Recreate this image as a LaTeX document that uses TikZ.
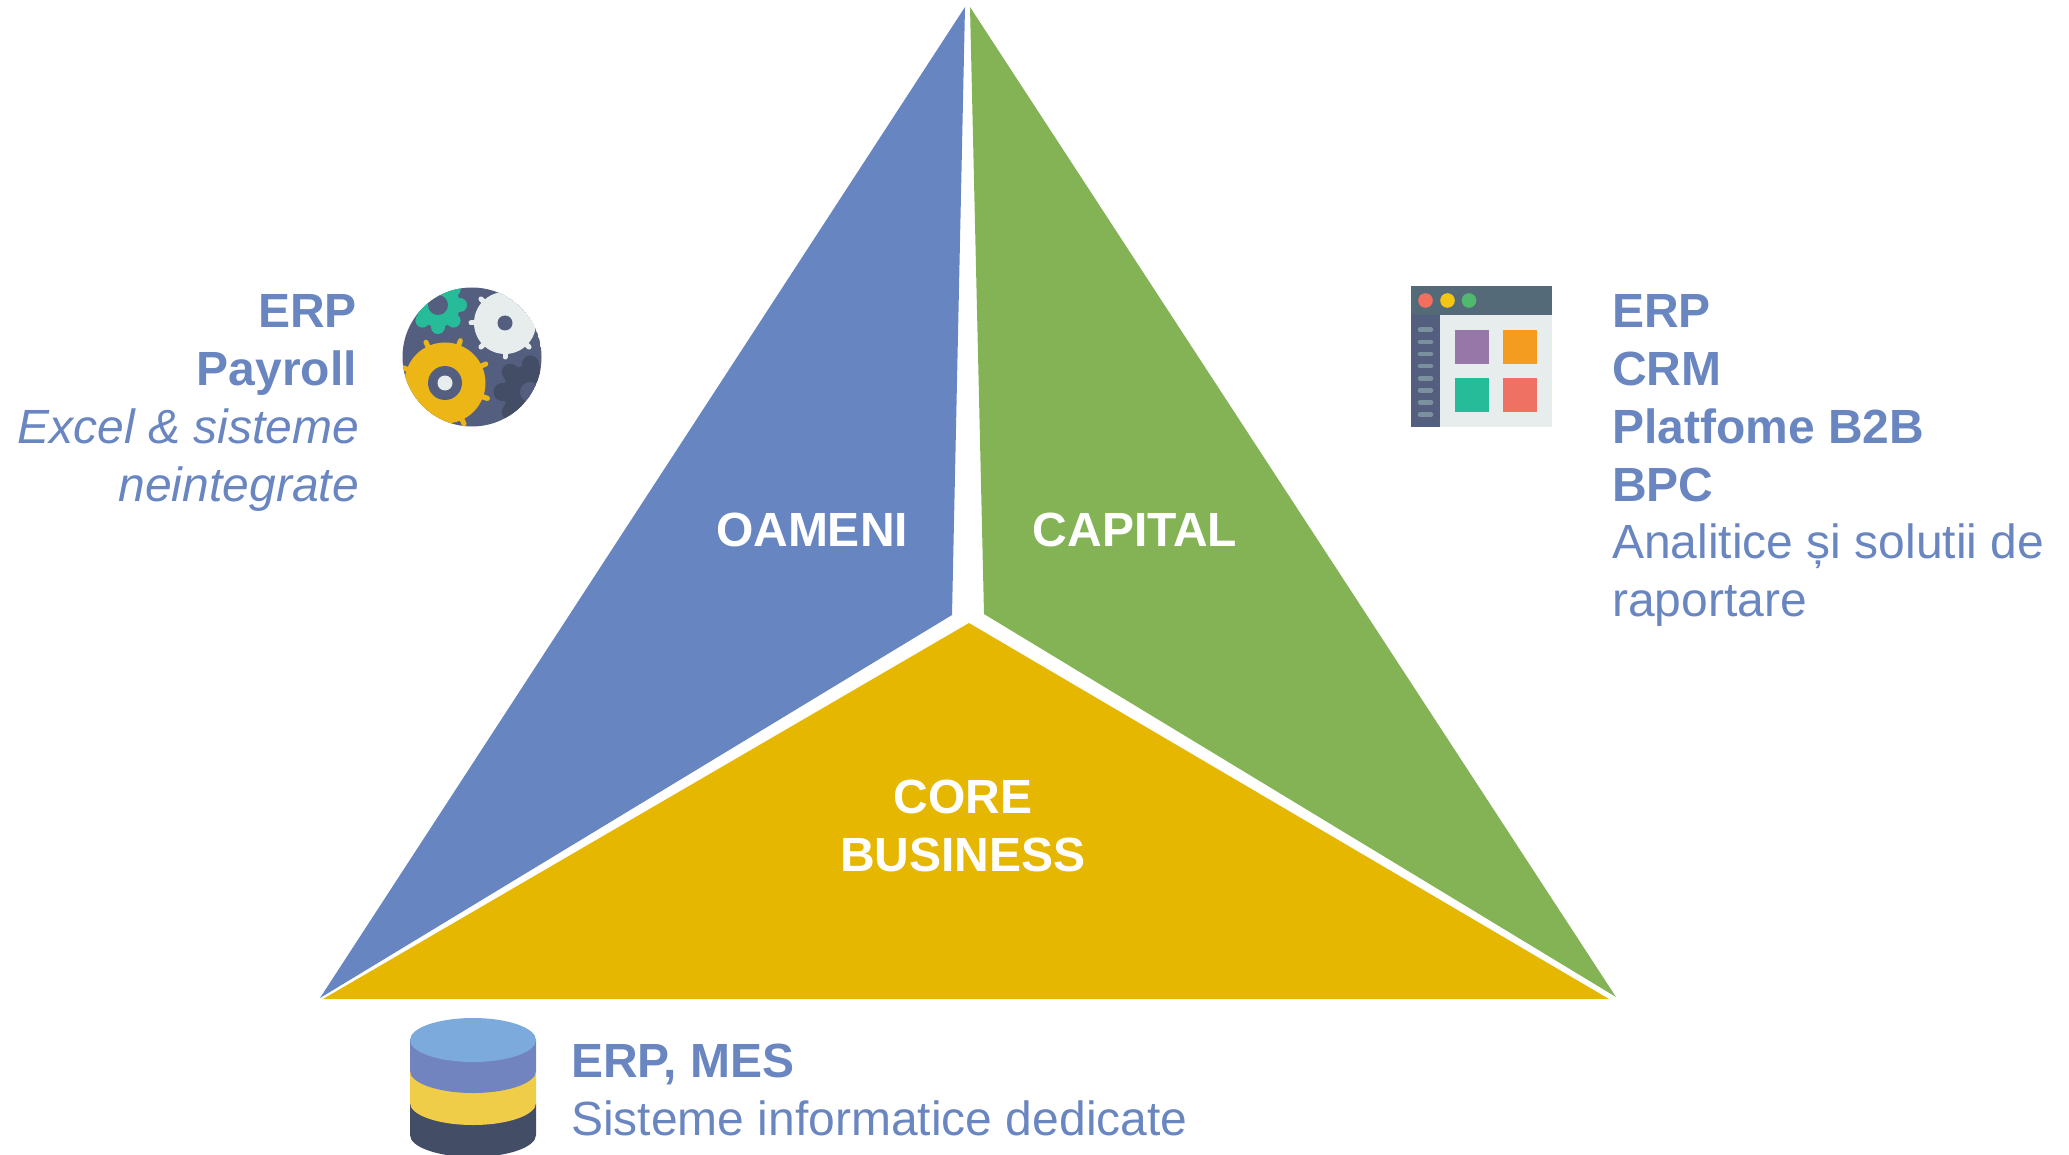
\documentclass[tikz,border=0pt]{standalone}
\usepackage{fontspec}
\setmainfont{Liberation Sans}
\definecolor{cblue}{HTML}{6785C1}
\definecolor{cgreen}{HTML}{84B356}
\definecolor{cyellow}{HTML}{E6B700}
\definecolor{ink}{HTML}{6A86C1}
\definecolor{slate}{HTML}{545F80}
\definecolor{darkslate}{HTML}{434D66}
\definecolor{gold}{HTML}{ECB616}
\definecolor{paleg}{HTML}{E7ECED}
\definecolor{teal}{HTML}{26BC9A}
\definecolor{winhead}{HTML}{546A79}
\definecolor{pill}{HTML}{7B919E}
\definecolor{dbtop}{HTML}{7DAADC}
\definecolor{dbblue}{HTML}{7284BF}
\definecolor{dbyellow}{HTML}{EFCD48}
\definecolor{dotr}{HTML}{F26F5F}
\definecolor{doty}{HTML}{F3C613}
\definecolor{dotg}{HTML}{4FBA6F}
\definecolor{sqp}{HTML}{9777A8}
\definecolor{sqo}{HTML}{F39C1F}
\definecolor{sqr}{HTML}{EE7163}
\tikzset{
  lbl/.style={font=\fontsize{48}{48}\selectfont,text=ink,inner sep=0pt},
  lblb/.style={lbl,font=\fontsize{48}{48}\selectfont\bfseries},
  lbli/.style={lbl,font=\fontsize{48}{48}\selectfont\itshape},
  inlbl/.style={font=\fontsize{48}{48}\selectfont\bfseries,text=white,inner sep=0pt,anchor=base},
  pillline/.style={draw=pill,line width=4.5pt,line cap=round}
}
\newcommand{\gearteeth}[6]{% cx cy r0 r1 width colour
  \foreach \a in {0,45,...,315}{\draw[#6,line width=#5,line cap=round] (#1,#2) ++(\a:#3) -- ++(\a:#4);}}
\begin{document}
\begin{tikzpicture}[x=1pt,y=-1pt]
\useasboundingbox (0,0) rectangle (2069,1155);
% triangle
\fill[cblue] (965,7) -- (952,615) -- (320,998) -- cycle;
\fill[cgreen] (970,7) -- (984,614) -- (1616,997) -- cycle;
\fill[cyellow] (969,623) -- (323,999) -- (1609,999) -- cycle;
\node[inlbl] (oameni) at (812,546) {OAMENI};
\node[inlbl] (capital) at (1135,546) {CAPITAL};
\node[inlbl] (core) at (963,813) {CORE};
\node[inlbl] (business) at (963,871) {BUSINESS};
% left text
\node[lblb,anchor=base east] (l1) at (357,328) {ERP};
\node[lblb,anchor=base east] (l2) at (357,385) {Payroll};
\node[lbli,anchor=base east] (l3) at (359,443) {Excel \& sisteme};
\node[lbli,anchor=base east] (l4) at (359,501) {neintegrate};
% right text
\node[lblb,anchor=base west] (r1) at (1612,328) {ERP};
\node[lblb,anchor=base west] (r2) at (1612,385) {CRM};
\node[lblb,anchor=base west] (r3) at (1612,443) {Platfome B2B};
\node[lblb,anchor=base west] (r4) at (1612,501) {BPC};
\node[lbl,anchor=base west] (r5) at (1612,558) {Analitice și solutii de};
\node[lbl,anchor=base west] (r6) at (1612,616) {raportare};
% bottom text
\node[lblb,anchor=base west] (b1) at (571,1077) {ERP, MES};
\node[lbl,anchor=base west] (b2) at (571,1135) {Sisteme informatice dedicate};
% gears icon
\begin{scope}
\clip (472,357) circle (69.5);
\fill[slate] (472,357) circle (69.5);
% teal gear
\fill[teal] (438,305) circle (22);
\gearteeth{438}{305}{16}{6}{14pt}{teal}
\fill[slate] (438,305) circle (10);
% dark gear
\fill[darkslate] (530,392) circle (27);
\gearteeth{530}{392}{20}{8}{17pt}{darkslate}
\fill[slate] (530,392) circle (10);
% white gear
\foreach \a in {0,45,...,315}{\draw[paleg,line width=5pt,line cap=round] (505,323) ++(\a:28) -- ++(\a:6);}
\fill[paleg] (505,323) circle (31);
\fill[slate] (505,323) circle (7.5);
% yellow gear
\foreach \a in {20,65,...,380}{\draw[gold,line width=5pt,line cap=round] (445,383) ++(\a:36) -- ++(\a:9);}
\fill[gold] (445,383) circle (40.5);
\fill[slate] (445,383) circle (17);
\fill[paleg] (445,383) circle (7.5);
\end{scope}
% window icon
\fill[paleg] (1411,286) rectangle (1552,427);
\fill[slate] (1411,315) rectangle (1440,427);
\fill[winhead] (1411,286) rectangle (1552,315);
\fill[dotr] (1425.5,300.5) circle (7.3);
\fill[doty] (1447.5,300.5) circle (7.3);
\fill[dotg] (1469,300.5) circle (7.3);
\foreach \y in {329.7,341.8,354,366,378.3,390.3,402.3,414.7}{\draw[pillline] (1420,\y) -- (1431,\y);}
\fill[sqp] (1455,330) rectangle (1489,364);
\fill[sqo] (1503,330) rectangle (1537,364);
\fill[teal] (1455,378) rectangle (1489,412);
\fill[sqr] (1503,378) rectangle (1537,412);
% database icon
\begin{scope}
\clip (0,0) rectangle (2069,1155);
\fill[darkslate] (410,1103) -- (410,1135) arc[start angle=180,end angle=360,x radius=63,y radius=-22] -- (536,1103) -- cycle;
\fill[dbyellow] (410,1071) -- (410,1103) arc[start angle=180,end angle=360,x radius=63,y radius=-22] -- (536,1071) -- cycle;
\fill[dbblue] (410,1040) -- (410,1071) arc[start angle=180,end angle=360,x radius=63,y radius=-22] -- (536,1040) -- cycle;
\fill[dbtop] (473,1040) ellipse[x radius=63,y radius=22];
\end{scope}
\end{tikzpicture}
\end{document}
